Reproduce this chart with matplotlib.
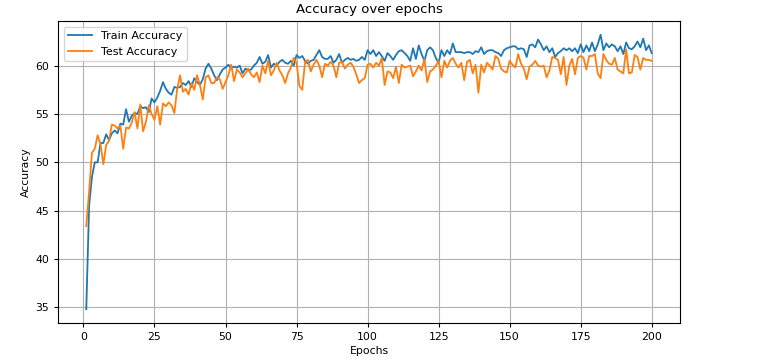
import matplotlib
matplotlib.use("Agg")
import matplotlib.pyplot as plt

train_acc = [
    34.8, 45.5, 48.5, 50.0, 50.0, 52.0, 52.0, 52.9, 52.3, 53.0,
    53.3, 53.0, 54.0, 53.9, 55.5, 54.2, 54.8, 55.1, 55.0, 55.8,
    55.6, 55.7, 55.2, 56.6, 56.2, 56.7, 57.4, 58.3, 57.6, 57.2,
    57.0, 57.8, 57.7, 57.8, 58.2, 58.0, 58.4, 57.8, 58.7, 58.3,
    58.0, 58.6, 59.7, 60.2, 59.7, 59.0, 58.5, 59.1, 59.6, 59.8,
    60.1, 59.7, 59.9, 59.8, 60.0, 59.2, 59.7, 59.5, 59.6, 60.0,
    60.3, 60.9, 60.2, 60.4, 61.1, 59.8, 60.2, 60.0, 60.4, 60.6,
    60.3, 60.2, 60.5, 60.0, 61.1, 60.8, 61.0, 60.5, 60.2, 60.5,
    60.6, 61.1, 61.6, 60.9, 60.7, 60.7, 61.0, 60.3, 60.6, 61.2,
    60.3, 60.6, 60.8, 60.6, 60.7, 60.5, 60.6, 60.9, 60.6, 61.6,
    61.2, 61.6, 61.0, 61.4, 61.0, 60.5, 61.3, 61.0, 60.6, 61.1,
    61.5, 61.6, 61.3, 61.0, 60.5, 61.8, 60.7, 62.1, 61.2, 60.5,
    61.6, 61.9, 61.6, 60.8, 60.3, 61.6, 61.0, 61.6, 61.2, 62.3,
    61.4, 61.4, 61.4, 61.3, 61.4, 61.4, 61.2, 61.5, 61.4, 61.9,
    61.2, 61.5, 61.6, 61.6, 61.4, 61.3, 61.0, 61.6, 61.8, 61.9,
    62.0, 62.0, 61.7, 61.8, 61.7, 60.9, 62.1, 62.2, 61.9, 62.7,
    62.2, 61.6, 62.0, 61.4, 61.8, 60.9, 61.3, 61.5, 61.8, 61.6,
    61.8, 61.5, 61.8, 61.3, 62.2, 61.4, 62.1, 61.5, 62.4, 61.5,
    62.2, 63.2, 61.6, 62.3, 61.9, 62.2, 62.0, 61.5, 62.0, 61.2,
    62.4, 61.8, 61.7, 62.0, 62.5, 61.9, 62.8, 61.6, 62.1, 61.3,
]

test_acc = [
    43.4, 47.0, 51.0, 51.4, 52.8, 51.9, 49.8, 51.8, 52.2, 53.9,
    53.8, 53.5, 53.8, 51.4, 53.6, 53.5, 54.1, 55.2, 53.5, 56.0,
    53.2, 54.2, 55.9, 55.0, 54.4, 55.8, 53.9, 56.1, 55.8, 56.2,
    55.9, 55.1, 57.6, 59.0, 57.3, 57.6, 57.0, 58.2, 57.5, 59.0,
    58.0, 56.5, 58.8, 59.0, 58.2, 58.2, 58.8, 58.6, 57.6, 58.3,
    59.0, 60.1, 58.4, 59.6, 59.3, 58.8, 59.2, 59.7, 59.1, 58.8,
    59.3, 58.3, 60.0, 59.2, 60.5, 59.0, 59.5, 60.3, 59.5, 59.0,
    58.2, 59.2, 59.8, 60.8, 60.3, 57.9, 57.5, 60.4, 60.6, 59.4,
    60.1, 60.6, 60.0, 58.8, 60.2, 60.0, 60.4, 60.0, 58.8, 60.3,
    60.4, 59.7, 60.1, 60.3, 59.9, 59.1, 58.2, 58.5, 58.7, 60.1,
    60.2, 59.8, 60.3, 60.0, 60.8, 58.0, 59.4, 59.3, 58.7, 59.9,
    58.2, 60.1, 59.8, 59.9, 60.0, 58.9, 59.4, 60.0, 59.5, 60.7,
    58.3, 59.4, 59.6, 60.0, 60.5, 58.8, 60.5, 59.8, 60.5, 60.8,
    60.2, 59.8, 60.3, 58.5, 60.4, 60.6, 59.2, 60.1, 57.2, 60.1,
    59.3, 60.3, 60.0, 59.6, 61.0, 60.7, 59.7, 59.4, 59.3, 60.5,
    60.1, 59.8, 61.2, 60.2, 59.7, 58.6, 59.9, 60.1, 60.5, 60.0,
    59.9, 60.0, 58.8, 59.5, 60.9, 60.8, 60.6, 59.1, 60.9, 58.0,
    60.0, 60.7, 59.1, 60.8, 61.0, 60.8, 59.6, 61.0, 61.0, 61.2,
    59.2, 58.7, 61.2, 60.6, 60.2, 60.1, 60.8, 59.6, 59.4, 59.2,
    61.7, 59.2, 59.3, 61.1, 60.9, 59.6, 60.8, 60.6, 60.6, 60.5,
]

epochs = list(range(1, len(train_acc) + 1))

fig = plt.figure(figsize=(7.68, 3.6), dpi=100)
ax = fig.add_axes([58 / 768, 1 - 323 / 360, (680 - 58) / 768, (323 - 21) / 360])
ax.plot(epochs, train_acc, color="#1f77b4", lw=1.3, label="Train Accuracy")
ax.plot(epochs, test_acc, color="#ff7f0e", lw=1.3, label="Test Accuracy")
ax.set_title("Accuracy over epochs", fontsize=9.5)
ax.set_xlabel("Epochs", fontsize=7.8, labelpad=3)
ax.set_ylabel("Accuracy", fontsize=7.8, labelpad=3)
ax.tick_params(labelsize=7.8, length=3)
ax.grid(True, color="#b0b0b0", lw=0.8)
ax.legend(loc="upper left", fontsize=8, handlelength=2.2)
fig.savefig("out.png", dpi=100)
